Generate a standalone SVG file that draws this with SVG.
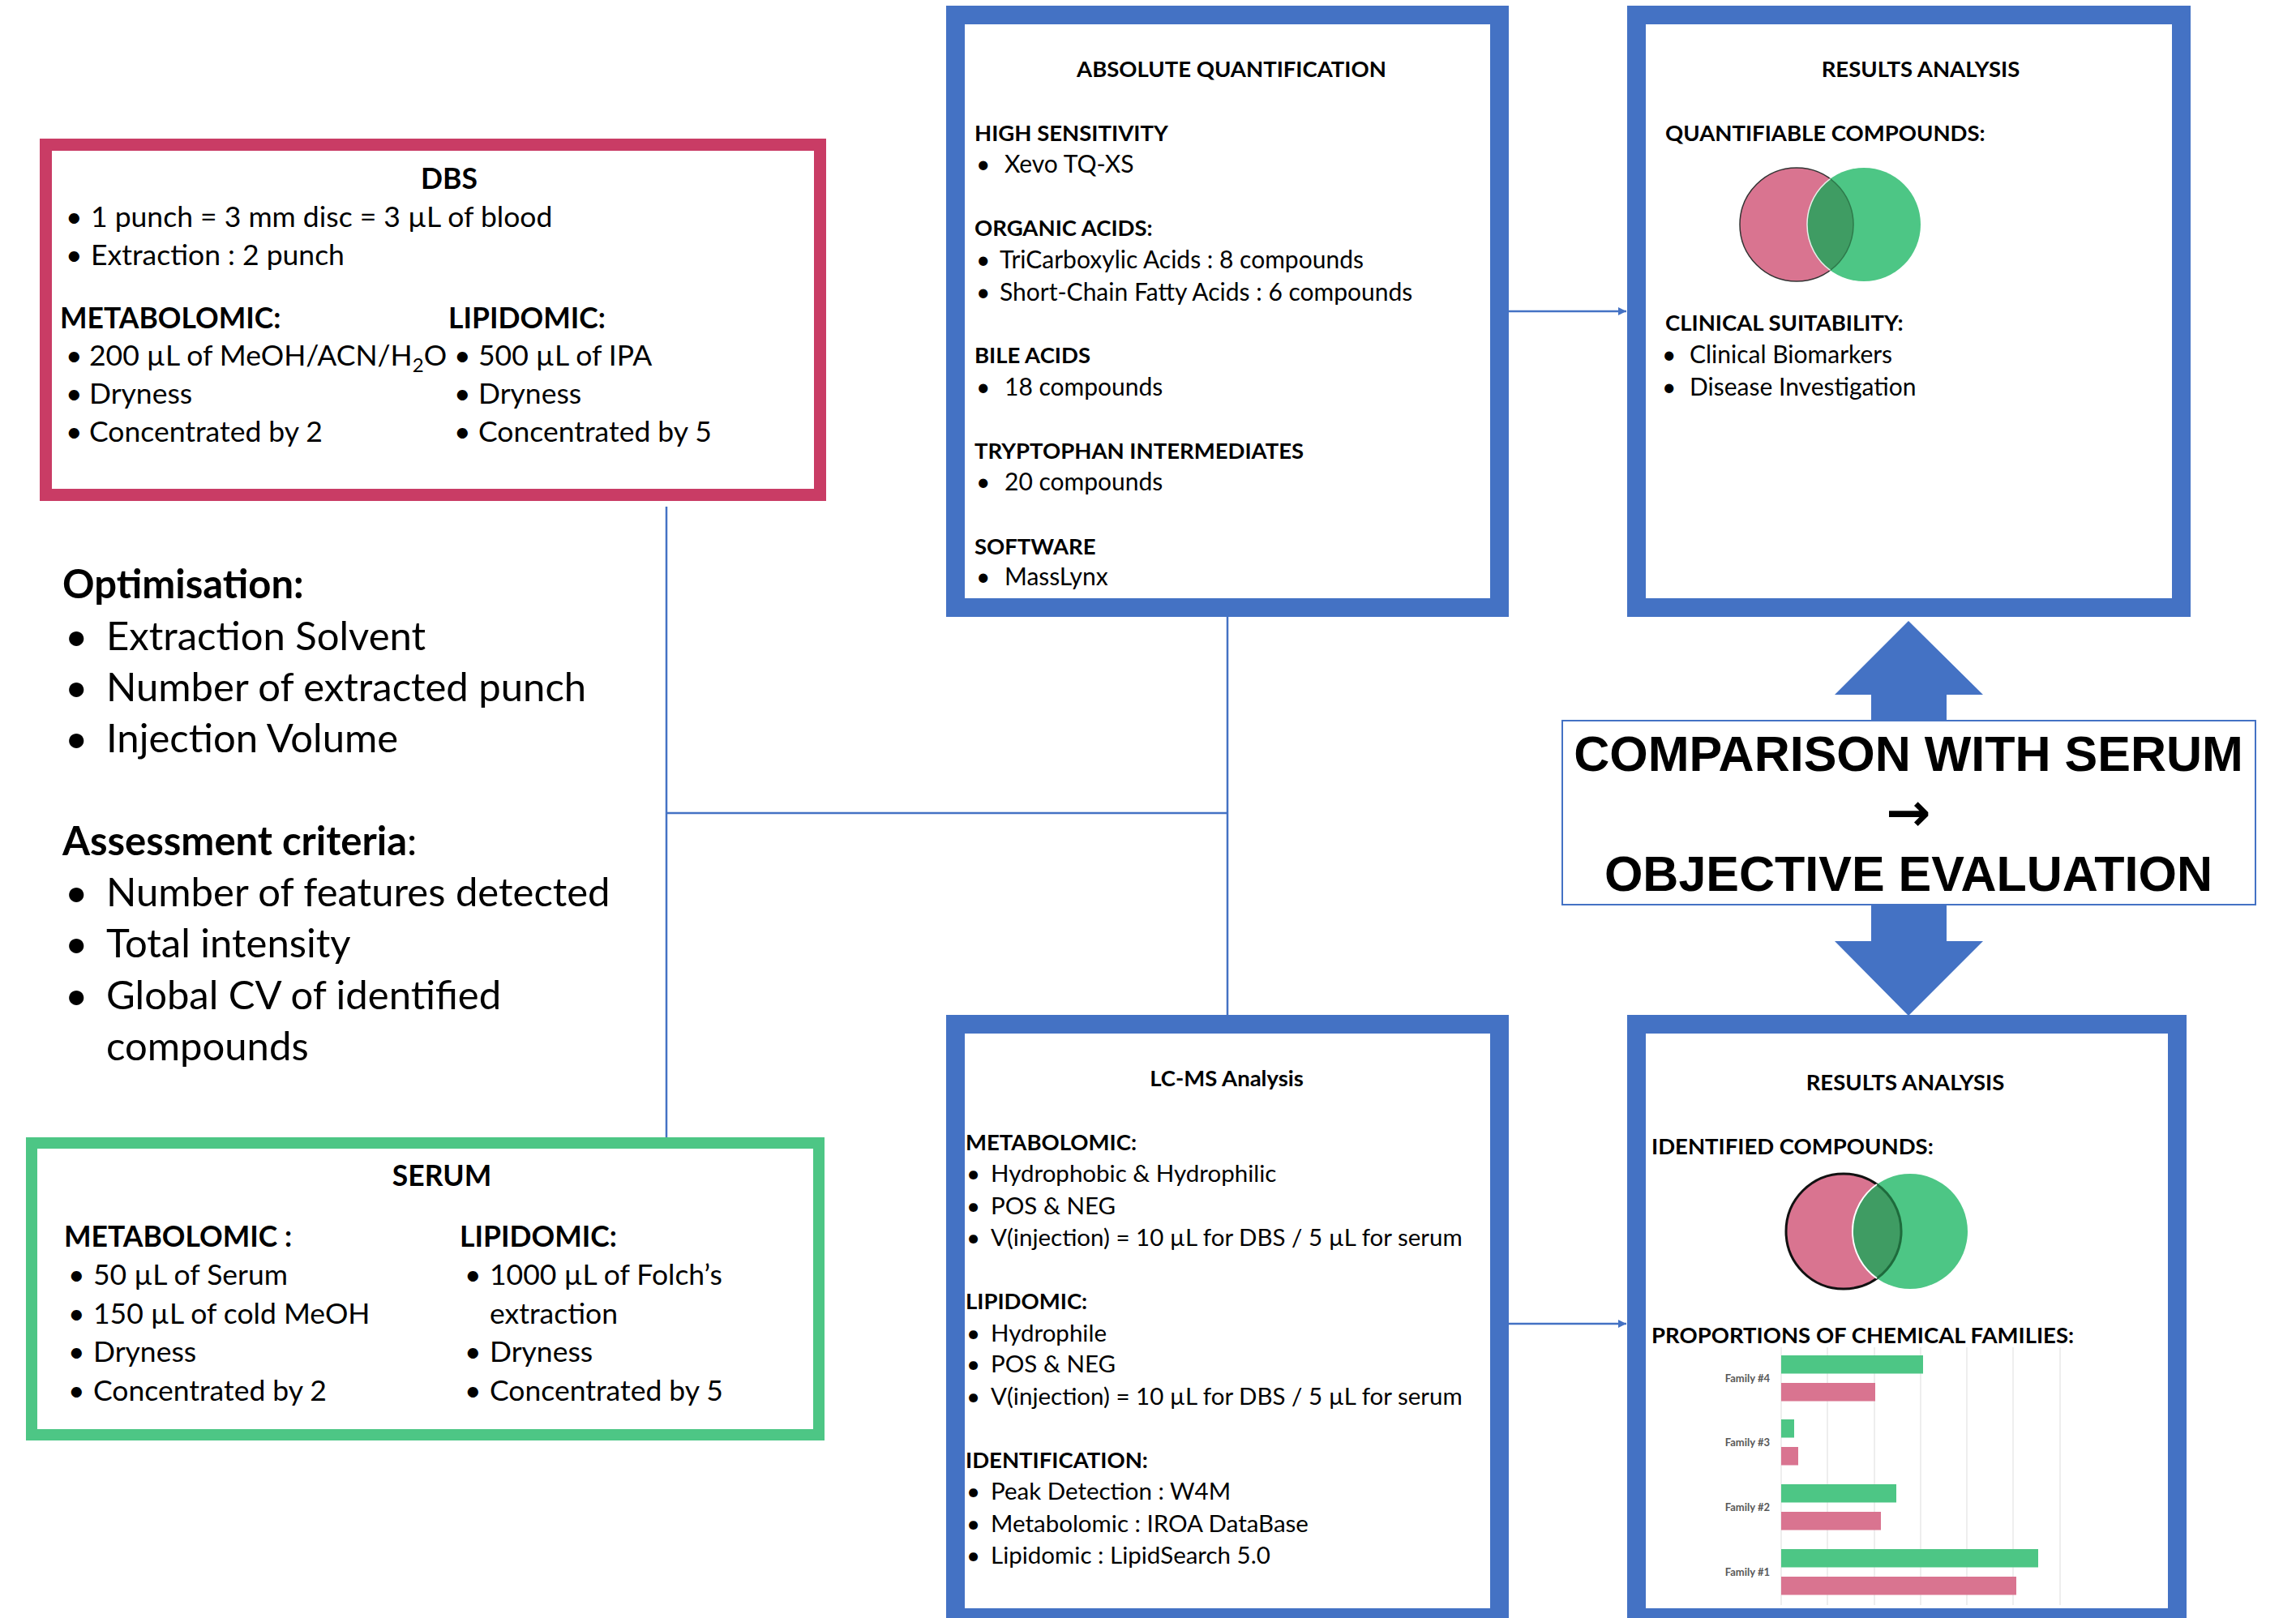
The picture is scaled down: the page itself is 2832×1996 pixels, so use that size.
<svg xmlns="http://www.w3.org/2000/svg" width="2832" height="1996" viewBox="0 0 2832 1996">
<defs>
<style>
text{font-family:Lato,"Open Sans","Liberation Sans",sans-serif;fill:#000}
.l1{font-size:35.5px}
.l1b{font-size:35.5px;font-weight:700}
.op{font-size:49px}
.opb{font-size:49px;font-weight:700}
.m{font-size:30px}
.m2{font-size:29.5px}
.mb{font-size:27.5px;font-weight:700}
.fam{font-size:13px;font-weight:700;fill:#595959}
.cmp{font-family:"Liberation Sans",Arial,"DejaVu Sans",sans-serif;font-weight:700;font-size:61px}
.arr{font-family:"DejaVu Sans",sans-serif;font-weight:700;font-size:66px}
.box{fill:#fff;stroke:#4472C4;stroke-width:23}
.con{stroke:#4472C4;stroke-width:2.5;fill:none}
.grid{stroke:#e3e3e3;stroke-width:1.2}
.pk{fill:#D97490}
.gr{fill:#4DC685}
</style>
<marker id="ah" markerUnits="userSpaceOnUse" markerWidth="12" markerHeight="12" refX="10" refY="5" orient="auto">
<path d="M0,0 L10,5 L0,10 z" fill="#4472C4"/>
</marker>
</defs>
<rect width="2832" height="1996" fill="#fff"/>

<g id="connectors">
<line class="con" x1="822" y1="625" x2="822" y2="1404"/>
<line class="con" x1="822" y1="1003" x2="1514" y2="1003"/>
<line class="con" x1="1514" y1="760" x2="1514" y2="1253"/>
<line class="con" x1="1861" y1="384" x2="2006" y2="384" marker-end="url(#ah)"/>
<line class="con" x1="1861" y1="1633" x2="2006" y2="1633" marker-end="url(#ah)"/>
<polygon fill="#4472C4" points="2354,766 2446,857 2401,857 2401,889 2308,889 2308,857 2263,857"/>
<polygon fill="#4472C4" points="2308,1116 2401,1116 2401,1161 2446,1161 2354,1253 2263,1161 2308,1161"/>
</g>

<g id="dbs">
<rect x="56.5" y="178.5" width="955" height="432" fill="#fff" stroke="#C93C65" stroke-width="15"/>
<text class="l1b" x="554" y="233" text-anchor="middle">DBS</text>
<text class="l1" y="280"><tspan x="81">•</tspan><tspan x="112">1 punch = 3 mm disc = 3 µL of blood</tspan></text>
<text class="l1" y="327"><tspan x="81">•</tspan><tspan x="112">Extraction : 2 punch</tspan></text>
<text class="l1b" x="74" y="405">METABOLOMIC:</text>
<text class="l1b" x="553" y="405">LIPIDOMIC:</text>
<text class="l1" y="451"><tspan x="81">•</tspan><tspan x="110">200 µL of MeOH/ACN/H</tspan><tspan font-size="24" dy="8">2</tspan><tspan dy="-8">O</tspan></text>
<text class="l1" y="498"><tspan x="81">•</tspan><tspan x="110">Dryness</tspan></text>
<text class="l1" y="545"><tspan x="81">•</tspan><tspan x="110">Concentrated by 2</tspan></text>
<text class="l1" y="451"><tspan x="560">•</tspan><tspan x="590">500 µL of IPA</tspan></text>
<text class="l1" y="498"><tspan x="560">•</tspan><tspan x="590">Dryness</tspan></text>
<text class="l1" y="545"><tspan x="560">•</tspan><tspan x="590">Concentrated by 5</tspan></text>
</g>

<g id="optimisation">
<text class="opb" x="77" y="738">Optimisation:</text>
<text class="op" y="802"><tspan x="80">•</tspan><tspan x="131">Extraction Solvent</tspan></text>
<text class="op" y="865"><tspan x="80">•</tspan><tspan x="131">Number of extracted punch</tspan></text>
<text class="op" y="928"><tspan x="80">•</tspan><tspan x="131">Injection Volume</tspan></text>
<text class="op" x="77" y="1055"><tspan font-weight="700">Assessment criteria</tspan>:</text>
<text class="op" y="1118"><tspan x="80">•</tspan><tspan x="131">Number of features detected</tspan></text>
<text class="op" y="1181"><tspan x="80">•</tspan><tspan x="131">Total intensity</tspan></text>
<text class="op" y="1245"><tspan x="80">•</tspan><tspan x="131">Global CV of identified</tspan></text>
<text class="op" x="131" y="1308">compounds</text>
</g>

<g id="serum">
<rect x="39" y="1410" width="971" height="360" fill="#fff" stroke="#4DC685" stroke-width="14"/>
<text class="l1b" x="545" y="1463" text-anchor="middle">SERUM</text>
<text class="l1b" x="79" y="1538">METABOLOMIC :</text>
<text class="l1b" x="567" y="1538">LIPIDOMIC:</text>
<text class="l1" y="1585"><tspan x="84">•</tspan><tspan x="115">50 µL of Serum</tspan></text>
<text class="l1" y="1633"><tspan x="84">•</tspan><tspan x="115">150 µL of cold MeOH</tspan></text>
<text class="l1" y="1680"><tspan x="84">•</tspan><tspan x="115">Dryness</tspan></text>
<text class="l1" y="1728"><tspan x="84">•</tspan><tspan x="115">Concentrated by 2</tspan></text>
<text class="l1" y="1585"><tspan x="573">•</tspan><tspan x="604">1000 µL of Folch’s</tspan></text>
<text class="l1" x="604" y="1633">extraction</text>
<text class="l1" y="1680"><tspan x="573">•</tspan><tspan x="604">Dryness</tspan></text>
<text class="l1" y="1728"><tspan x="573">•</tspan><tspan x="604">Concentrated by 5</tspan></text>
</g>

<g id="absolute-quantification">
<rect class="box" x="1178.5" y="18.5" width="671" height="731"/>
<text class="mb" x="1519" y="95" text-anchor="middle">ABSOLUTE QUANTIFICATION</text>
<text class="mb" x="1202" y="174">HIGH SENSITIVITY</text>
<text class="m" y="213"><tspan x="1204">•</tspan><tspan x="1239">Xevo TQ-XS</tspan></text>
<text class="mb" x="1202" y="291">ORGANIC ACIDS:</text>
<text class="m" y="331"><tspan x="1204">•</tspan><tspan x="1233">TriCarboxylic Acids : 8 compounds</tspan></text>
<text class="m" y="371"><tspan x="1204">•</tspan><tspan x="1233">Short-Chain Fatty Acids : 6 compounds</tspan></text>
<text class="mb" x="1202" y="448">BILE ACIDS</text>
<text class="m" y="488"><tspan x="1204">•</tspan><tspan x="1239">18 compounds</tspan></text>
<text class="mb" x="1202" y="566">TRYPTOPHAN INTERMEDIATES</text>
<text class="m" y="605"><tspan x="1204">•</tspan><tspan x="1239">20 compounds</tspan></text>
<text class="mb" x="1202" y="684">SOFTWARE</text>
<text class="m" y="722"><tspan x="1204">•</tspan><tspan x="1239">MassLynx</tspan></text>
</g>

<g id="results-top">
<rect class="box" x="2018.5" y="18.5" width="672" height="731"/>
<text class="mb" x="2369" y="95" text-anchor="middle">RESULTS ANALYSIS</text>
<text class="mb" x="2054" y="174">QUANTIFIABLE COMPOUNDS:</text>
<circle cx="2216" cy="277" r="70" class="pk" stroke="#333" stroke-width="1.5"/>
<circle cx="2299" cy="277" r="70" class="gr"/>
<path d="M2257.5,220.6 A70,70 0 0 1 2257.5,333.4 A70,70 0 0 1 2257.5,220.6 z" fill="#3F9C63"/>
<path d="M2257.5,220.6 A70,70 0 0 1 2257.5,333.4" fill="none" stroke="#2E7A4B" stroke-width="1.5"/>
<path d="M2257.5,333.4 A70,70 0 0 1 2257.5,220.6" fill="none" stroke="#e8f0ea" stroke-width="1.5"/>
<text class="mb" x="2054" y="408">CLINICAL SUITABILITY:</text>
<text class="m" y="448"><tspan x="2050">•</tspan><tspan x="2084">Clinical Biomarkers</tspan></text>
<text class="m" y="488"><tspan x="2050">•</tspan><tspan x="2084">Disease Investigation</tspan></text>
</g>

<g id="comparison">
<rect x="1927" y="889" width="855" height="227" fill="#fff" stroke="#4472C4" stroke-width="2"/>
<text class="cmp" x="2354" y="951" text-anchor="middle">COMPARISON WITH SERUM</text>
<text class="arr" x="2354" y="1025" text-anchor="middle">→</text>
<text class="cmp" x="2354" y="1099" text-anchor="middle">OBJECTIVE EVALUATION</text>
</g>

<g id="lcms">
<rect class="box" x="1178.5" y="1263.5" width="671" height="732"/>
<text class="mb" x="1513" y="1340" text-anchor="middle">LC-MS Analysis</text>
<text class="mb" x="1191" y="1419">METABOLOMIC:</text>
<text class="m2" y="1458"><tspan x="1192">•</tspan><tspan x="1222">Hydrophobic &amp; Hydrophilic</tspan></text>
<text class="m2" y="1498"><tspan x="1192">•</tspan><tspan x="1222">POS &amp; NEG</tspan></text>
<text class="m2" y="1537"><tspan x="1192">•</tspan><tspan x="1222">V(injection) = 10 µL for DBS / 5 µL for serum</tspan></text>
<text class="mb" x="1191" y="1615">LIPIDOMIC:</text>
<text class="m2" y="1655"><tspan x="1192">•</tspan><tspan x="1222">Hydrophile</tspan></text>
<text class="m2" y="1693"><tspan x="1192">•</tspan><tspan x="1222">POS &amp; NEG</tspan></text>
<text class="m2" y="1733"><tspan x="1192">•</tspan><tspan x="1222">V(injection) = 10 µL for DBS / 5 µL for serum</tspan></text>
<text class="mb" x="1191" y="1811">IDENTIFICATION:</text>
<text class="m2" y="1850"><tspan x="1192">•</tspan><tspan x="1222">Peak Detection : W4M</tspan></text>
<text class="m2" y="1890"><tspan x="1192">•</tspan><tspan x="1222">Metabolomic : IROA DataBase</tspan></text>
<text class="m2" y="1929"><tspan x="1192">•</tspan><tspan x="1222">Lipidomic : LipidSearch 5.0</tspan></text>
</g>

<g id="results-bottom">
<rect class="box" x="2018.5" y="1263.5" width="667" height="732"/>
<text class="mb" x="2350" y="1345" text-anchor="middle">RESULTS ANALYSIS</text>
<text class="mb" x="2037" y="1424">IDENTIFIED COMPOUNDS:</text>
<circle cx="2274" cy="1519" r="71" class="pk" stroke="#111" stroke-width="3"/>
<circle cx="2356" cy="1519" r="71" class="gr"/>
<path d="M2315,1461.0 A71,71 0 0 1 2315,1577.0 A71,71 0 0 1 2315,1461.0 z" fill="#3F9C63"/>
<path d="M2315,1461.0 A71,71 0 0 1 2315,1577.0" fill="none" stroke="#1E6B3C" stroke-width="3"/>
<path d="M2315,1577.0 A71,71 0 0 1 2315,1461.0" fill="none" stroke="#fff" stroke-width="2"/>
<text class="mb" x="2037" y="1657">PROPORTIONS OF CHEMICAL FAMILIES:</text>
<g id="chart">
<line class="grid" x1="2197" y1="1662" x2="2197" y2="1980"/>
<line class="grid" x1="2254" y1="1662" x2="2254" y2="1980"/>
<line class="grid" x1="2312" y1="1662" x2="2312" y2="1980"/>
<line class="grid" x1="2369" y1="1662" x2="2369" y2="1980"/>
<line class="grid" x1="2426" y1="1662" x2="2426" y2="1980"/>
<line class="grid" x1="2483" y1="1662" x2="2483" y2="1980"/>
<line class="grid" x1="2541" y1="1662" x2="2541" y2="1980"/>
<rect class="gr" x="2197" y="1672" width="175" height="22.5"/>
<rect class="pk" x="2197" y="1706" width="116" height="22.5"/>
<rect class="gr" x="2197" y="1751" width="16" height="22.5"/>
<rect class="pk" x="2197" y="1785" width="21" height="22.5"/>
<rect class="gr" x="2197" y="1831" width="142" height="22.5"/>
<rect class="pk" x="2197" y="1865" width="123" height="22.5"/>
<rect class="gr" x="2197" y="1911" width="317" height="22.5"/>
<rect class="pk" x="2197" y="1945" width="290" height="22.5"/>
<text class="fam" x="2183" y="1705" text-anchor="end">Family #4</text>
<text class="fam" x="2183" y="1784" text-anchor="end">Family #3</text>
<text class="fam" x="2183" y="1864" text-anchor="end">Family #2</text>
<text class="fam" x="2183" y="1944" text-anchor="end">Family #1</text>
</g>
</g>
</svg>
